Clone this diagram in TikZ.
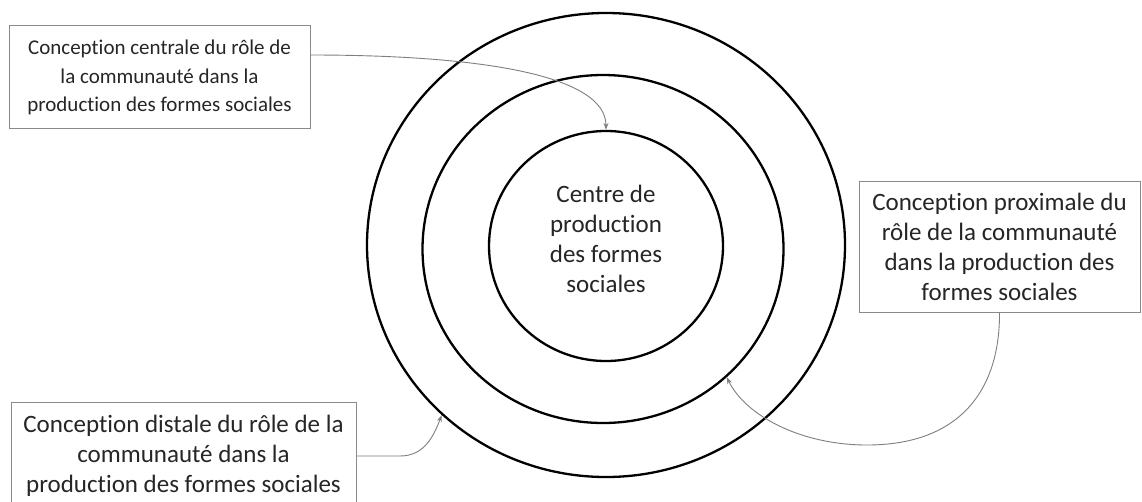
\documentclass[tikz,border=0pt]{standalone}
\usepackage{fontspec}
\setmainfont{Carlito}[Ligatures=NoCommon]
\usetikzlibrary{shapes.geometric,arrows.meta,calc}
\definecolor{boxgray}{HTML}{8A8A8A}
\definecolor{txt}{HTML}{262626}
\definecolor{arrgray}{HTML}{7F7F7F}
\begin{document}
\begin{tikzpicture}[x=1pt,y=-1pt,
  ring/.style={draw=black,line width=2.3pt,ellipse,inner sep=0pt},
  labelbox/.style={draw=boxgray,line width=1pt,rectangle,inner sep=0pt,align=center,text=txt},
  conn/.style={draw=arrgray,line width=0.9pt,-{Stealth[length=7pt,width=5pt]}},
  bigtext/.style={font=\fontsize{25}{30}\selectfont},
  smalltext/.style={font=\fontsize{21}{28.5}\selectfont}]
\useasboundingbox (0,0) rectangle (1142,501);
\clip (0,0) rectangle (1142,501);
\fill[white] (0,0) rectangle (1142,501);

% rings
\node[ring,minimum width=478pt,minimum height=464pt] (o) at (606,245) {};
\node[ring,minimum width=361pt,minimum height=348pt] (m) at (603,249) {};
\node[ring,minimum width=234pt,minimum height=230pt,align=center,text=txt,bigtext,text depth=14pt] (c) at (606,246) {Centre de\\production\\des formes\\sociales};

% boxes
\node[labelbox,smalltext,minimum width=301pt,minimum height=103pt,text depth=2pt] (b1) at (159.5,77) {Conception centrale du rôle de\\la communauté dans la\\production des formes sociales};
\node[labelbox,bigtext,minimum width=281pt,minimum height=131pt] (b2) at (999.5,246.5) {Conception proximale du\\rôle de la communauté\\dans la production des\\formes sociales};
\node[labelbox,bigtext,minimum width=345pt,minimum height=108pt] (b3) at (183.5,456) {Conception distale du rôle de la\\communauté dans la\\production des formes sociales};

% connectors
\coordinate (s1) at ($(b1.north east)+(0,30)$);
\draw[conn] (s1) .. controls (480,55) and (606,75) .. (c.north);
\coordinate (k2) at (867,445);
\draw[conn] (b2.south) .. controls (1000,390) and (960,445) .. (k2) .. controls (800,445) and (745,415) .. (m.-46);
\coordinate (k3) at (400,456);
\draw[conn] (b3.east) -- (k3) .. controls (425,456) and (434,435) .. (o.-134);
\end{tikzpicture}
\end{document}
